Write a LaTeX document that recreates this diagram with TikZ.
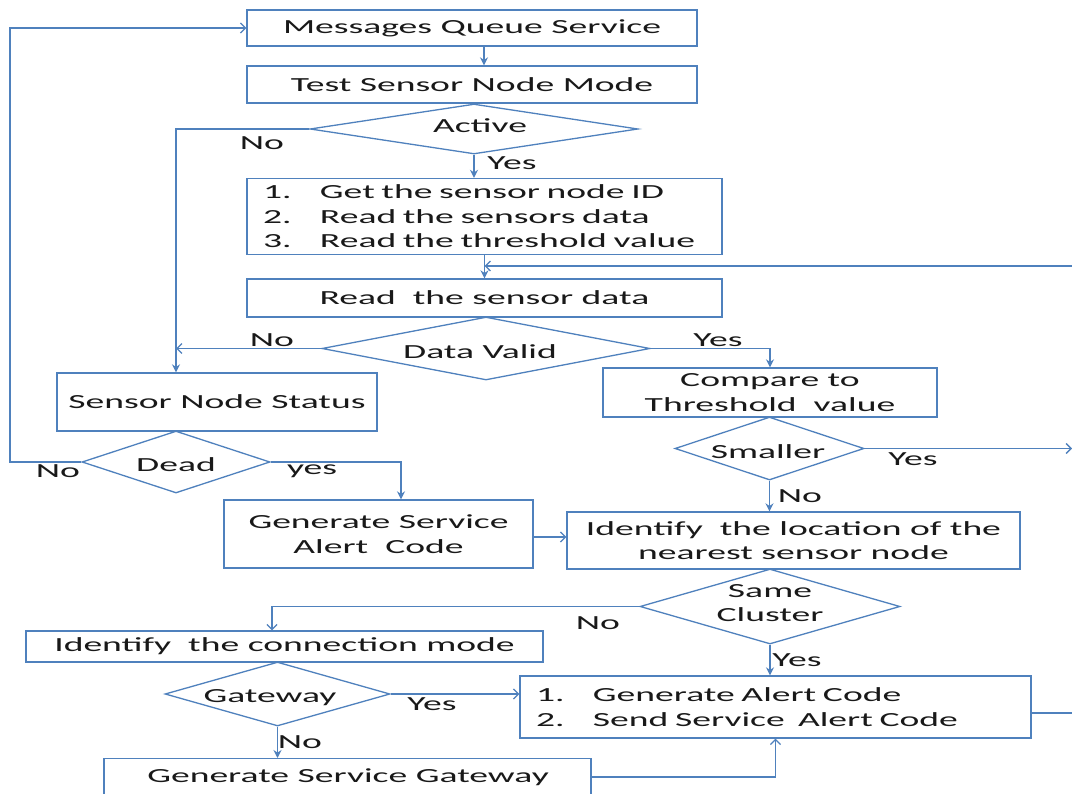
\documentclass[tikz,border=0pt]{standalone}
\usepackage{fontspec}
\setmainfont{Carlito}[FakeStretch=1.88]
\usetikzlibrary{shapes.geometric,arrows.meta}
\definecolor{lc}{RGB}{79,129,189}
\definecolor{tc}{RGB}{25,25,25}
\newcommand{\nm}[1]{\makebox[57pt][l]{#1}}
\begin{document}
\begin{tikzpicture}[x=1pt,y=-1pt,
 box/.style={draw=lc,line width=1.3pt,inner sep=0pt,text=tc,align=center,font=\fontsize{20}{24.5}\selectfont,rectangle},
 dia/.style={draw=lc,line width=1.3pt,diamond,inner sep=0pt},
 txt/.style={text=tc,font=\fontsize{20}{24.5}\selectfont,inner sep=0pt,align=center},
 lnk/.style={draw=lc,line width=1.3pt},
 fa/.style={lnk,-{Stealth[length=8pt,width=8pt]}},
 oa/.style={lnk,-{Straight Barb[length=5pt,width=10pt]}},
]
\useasboundingbox (0,0) rectangle (1072,794);
\fill[white] (0,0) rectangle (1072,794);
% boxes
\node[box,minimum width=450pt,minimum height=36pt] (b1) at (472,28) {Messages Queue Service};
\node[box,minimum width=450pt,minimum height=37pt] (b2) at (472,84.5) {Test Sensor Node Mode};
\node[box,minimum width=475pt,minimum height=76pt,inner xsep=16pt,text width=443pt,align=left] (b3) at (484.5,216.5)
 {\nm{1.}Get the sensor node ID\\\nm{2.}Read the sensors data\\\nm{3.}Read the threshold value};
\node[box,minimum width=475pt,minimum height=38pt] (b4) at (484.5,298) {Read~ the sensor data};
\node[box,minimum width=334pt,minimum height=49pt] (b5) at (770,392.5) {Compare to\\Threshold~ value};
\node[box,minimum width=453pt,minimum height=57pt] (b6) at (793.5,540.5) {Identify~ the location of the\\nearest sensor node};
\node[box,minimum width=320pt,minimum height=58pt] (sns) at (217,402) {Sensor Node Status};
\node[box,minimum width=309pt,minimum height=68pt] (gsa) at (378.5,534) {Generate Service\\Alert~ Code};
\node[box,minimum width=517pt,minimum height=31pt] (b7) at (284.5,646.5) {Identify~ the connection mode};
\node[box,minimum width=511pt,minimum height=62pt,inner xsep=16pt,text width=479pt,align=left] (b8) at (775.5,707)
 {\nm{1.}Generate Alert Code\\\nm{2.}Send Service~ Alert Code};
\node[box,minimum width=487pt,minimum height=44pt,anchor=north] (b9) at (347.5,758) {};
\node[txt] (b9t) at (348,777) {Generate Service Gateway};
% diamonds
\node[dia,minimum width=328pt,minimum height=50pt] (act) at (474,129) {};
\node[dia,minimum width=328pt,minimum height=63pt] (dv) at (486,348.5) {};
\node[dia,minimum width=189pt,minimum height=63pt] (sm) at (769.5,448.5) {};
\node[dia,minimum width=188pt,minimum height=62pt] (dead) at (176,462) {};
\node[dia,minimum width=260pt,minimum height=75pt] (sc) at (770,606.5) {};
\node[dia,minimum width=225pt,minimum height=64pt] (gw) at (277.5,694) {};
\node[txt] (actt) at (480,126) {Active};
\node[txt] (dvt) at (480,352) {Data Valid};
\node[txt] (smt) at (768,452) {Smaller};
\node[txt] (deadt) at (176,465) {Dead};
\node[txt] (sct) at (770,603) {Same\\Cluster};
\node[txt] (gwt) at (270,698) {Gateway};
% helper coordinates
\coordinate (nocol) at (176,0);
\coordinate (re) at (1072,0);
\coordinate (le) at (10,0);
\coordinate (y266) at (0,266);
\coordinate (y537) at (0,537);
\coordinate (y713) at (0,713);
\coordinate (y777) at (0,777);
\coordinate (x401) at (401,0);
\coordinate (x272) at (272,0);
% connectors
\draw[fa] ([xshift=12pt]b1.south) -- ([xshift=12pt]b2.north);
\draw[fa] (act.west) -| (nocol |- sns.north);
\draw[fa] (act.south) -- (act.south |- b3.north);
\draw[fa] (b3.south) -- (b4.north);
\draw[oa] (re |- y266) -- (b3.south |- y266);
\draw[oa] (dv.west) -- (nocol |- dv.west);
\draw[fa] (dv.east) -| (b5.north);
\draw[oa] (sm.east) -- (re |- sm.east);
\draw[fa] (sm.south) -- (sm.south |- b6.north);
\draw[oa] (dead.west) -| (le |- b1.west) -- (b1.west);
\draw[fa] (dead.east) -| (x401 |- gsa.north);
\draw[oa] (gsa.east |- y537) -- (b6.west |- y537);
\draw[oa] (sc.west) -| (x272 |- b7.north);
\draw[fa] (sc.south) -- (sc.south |- b8.north);
\draw[oa] (gw.east) -- (gw.east -| b8.west);
\draw[fa] (gw.south) -- (gw.south |- b9.north);
\draw[lnk] (b8.east |- y713) -- (re |- y713);
\draw[oa] (b9.east |- y777) -| (b8.south);
% labels
\node[txt] (l1) at (262,143) {No};
\node[txt] (l2) at (512,163) {Yes};
\node[txt] (l3) at (272,340) {No};
\node[txt] (l4) at (718,340) {Yes};
\node[txt] (l5) at (913,459) {Yes};
\node[txt] (l6) at (800,496) {No};
\node[txt] (l7) at (58,471) {No};
\node[txt] (l8) at (312,471) {yes};
\node[txt] (l9) at (598,623) {No};
\node[txt] (l10) at (797,660) {Yes};
\node[txt] (l11) at (432,704) {Yes};
\node[txt] (l12) at (300,742) {No};
\end{tikzpicture}
\end{document}
